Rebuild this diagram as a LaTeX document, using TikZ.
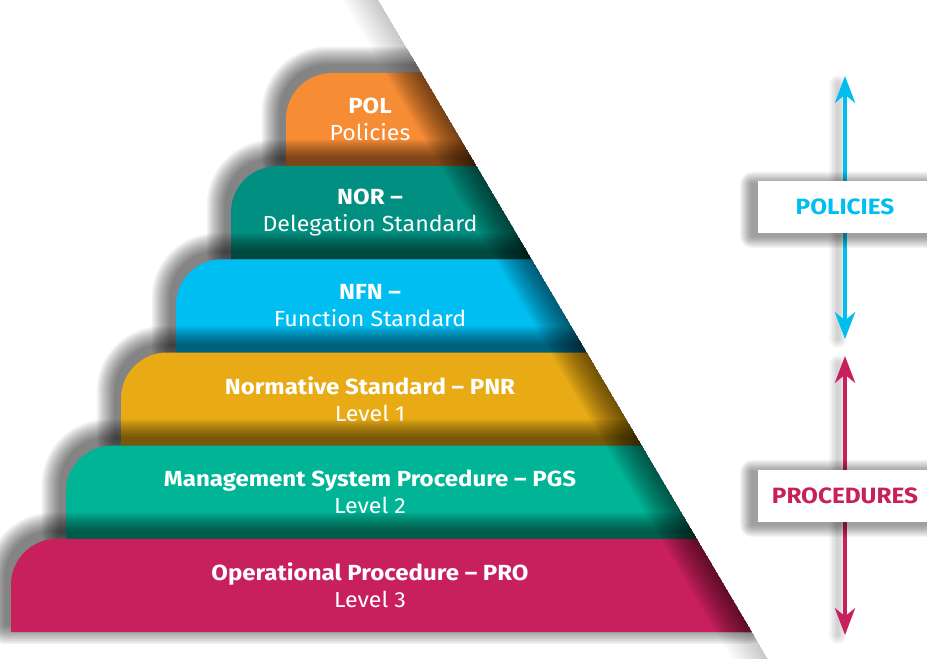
\documentclass[tikz,border=0pt]{standalone}
\usepackage{fontspec}
\setmainfont{Fira Sans}[FakeStretch=1.06, BoldFeatures={FakeStretch=1.1}]
\usetikzlibrary{arrows.meta,calc}
\definecolor{cPOL}{HTML}{F68C34}
\definecolor{cNOR}{HTML}{008F80}
\definecolor{cNFN}{HTML}{00BEF1}
\definecolor{cPNR}{HTML}{E8AB16}
\definecolor{cPGS}{HTML}{00B496}
\definecolor{cPRO}{HTML}{C8205C}
\definecolor{cArrC}{HTML}{00BEEE}
\definecolor{cArrR}{HTML}{C8205C}
\tikzset{
  lyrtext/.style={text=white, align=center, font=\fontsize{16.4}{20.25}\selectfont},
  tagbox/.style={fill=white, minimum width=130.5pt, minimum height=39pt, inner sep=0pt,
    font=\bfseries\fontsize{16.6}{20}\selectfont},
  shadepass/.style={fill=black, draw=black, line join=round},
  dblarrow/.style={line width=3.5pt, {Stealth[length=20pt,width=15pt,inset=6pt]}-{Stealth[length=20pt,width=15pt,inset=6pt]}},
}
\newcommand\pyrlayer[6]{%
  \pgfmathsetmacro\sxT{378.3+0.5911*#3}%
  \pgfmathsetmacro\sxB{378.3+0.5911*#4}%
  \pgfmathsetmacro\ymid{(#3+#4)/2}%
  \begin{scope}[shift={(-5,-7)}]
  \foreach \n in {1,...,12} {
    \pgfmathsetmacro\lw{(13-\n)*3.2*0.75}
    \begin{scope}[transparency group, opacity=0.05]
    \path[shadepass, line width=\lw pt] (#5,#4) -- (#5,#3+46) arc[start angle=180,end angle=270,radius=46] -- (\sxT,#3) -- (\sxB,#4) -- cycle;
    \end{scope}
  }
  \end{scope}
  \fill[#2] (#5,#4) -- (#5,#3+46) arc[start angle=180,end angle=270,radius=46] -- (\sxT,#3) -- (\sxB,#4) -- cycle;
  \node[lyrtext] (#1) at (370,\ymid) {#6};
}
\newcommand\tagshadow[2]{%
  \begin{scope}[shift={(-6,3)}]
  \foreach \n in {1,...,10} {
    \pgfmathsetmacro\lw{(11-\n)*2.4*0.75}
    \begin{scope}[transparency group, opacity=0.045]
    \path[shadepass, line width=\lw pt] (758,#1) rectangle (940,#2);
    \end{scope}
  }
  \end{scope}
}
\begin{document}
\begin{tikzpicture}[x=0.75pt,y=-0.75pt]
\useasboundingbox (0,0) rectangle (927,659);
\fill[white] (0,0) rectangle (927,659);
% pyramid, clipped to the left of the slanted side
\begin{scope}
\clip (-20,-20) -- (366.5,-20) -- (780.2,680) -- (-20,680) -- cycle;
\pyrlayer{pol}{cPOL}{73}{166.2}{286}{\textbf{POL}\\Policies}
\pyrlayer{nor}{cNOR}{166.2}{259.3}{231}{\textbf{NOR –}\\Delegation Standard}
\pyrlayer{nfn}{cNFN}{259.3}{352.5}{176}{\textbf{NFN –}\\Function Standard}
\pyrlayer{pnr}{cPNR}{352.5}{445.7}{121}{\textbf{Normative Standard – PNR}\\Level 1}
\pyrlayer{pgs}{cPGS}{445.7}{538.8}{66}{\textbf{Management System Procedure – PGS}\\Level 2}
\pyrlayer{pro}{cPRO}{538.8}{632}{11}{\textbf{Operational Procedure – PRO}\\Level 3}
% darkening along the slanted side
\foreach \j in {1,...,18} {
  \pgfmathsetmacro\w{2*\j}
  \fill[black, opacity=0.035] (421.45,73) -- (751.88,632) -- (751.88-\w,632) -- (421.45-\w,73) -- cycle;
  \fill[black, opacity=0.012] (375.3,-5) -- (421.45,73) -- (421.45-\w,73) -- (375.3-\w,-5) -- cycle;
  \fill[black, opacity=0.012] (751.88,632) -- (771.4,665) -- (771.4-\w,665) -- (751.88-\w,632) -- cycle;
}
\end{scope}
% arrows
\coordinate (pa1) at (845,76);
\coordinate (pa2) at (845,339);
\coordinate (ra1) at (845,356);
\coordinate (ra2) at (845,635);
\foreach \n in {1,...,6} {
  \draw[black, opacity=0.03, line width=\n*2.2pt, line cap=round] ($(pa1)+(-7,8)$) -- ($(pa2)+(-7,0)$);
  \draw[black, opacity=0.03, line width=\n*2.2pt, line cap=round] ($(ra1)+(-7,8)$) -- ($(ra2)+(-7,0)$);
}
\draw[cArrC, dblarrow] (pa1) -- (pa2);
\draw[cArrR, dblarrow] (ra1) -- (ra2);
\tagshadow{181}{233}
\tagshadow{469}{522}
\node[tagbox, text=cArrC] (polbox) at (845,207) {POLICIES};
\node[tagbox, text=cArrR] (probox) at (845,495.5) {PROCEDURES};
\end{tikzpicture}
\end{document}
